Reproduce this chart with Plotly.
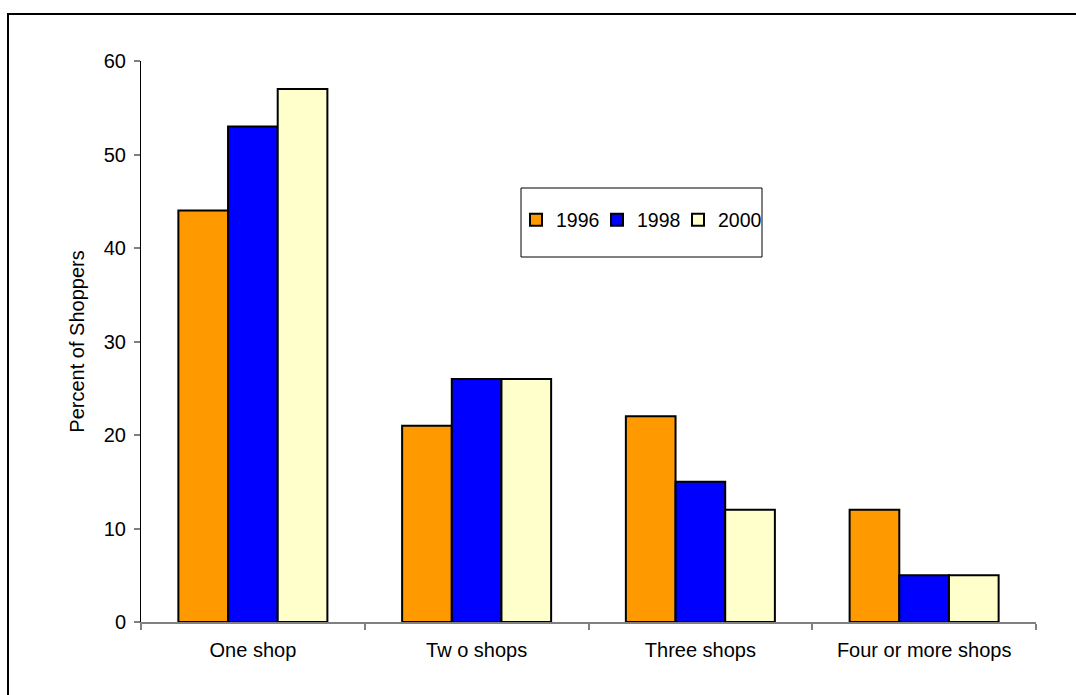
import plotly.graph_objects as go

# Number of shops visited, share of shoppers by survey year
categories = ["One shop", "Tw o shops", "Three shops", "Four or more shops"]
years = ["1996", "1998", "2000"]
pct_1996 = [44, 21, 22, 12]
pct_1998 = [53, 26, 15, 5]
pct_2000 = [57, 26, 12, 5]
series_values = [pct_1996, pct_1998, pct_2000]
series_colors = ["#FF9900", "#0000FF", "#FFFFCC"]
y_ticks = [0, 10, 20, 30, 40, 50, 60]

FONT = "Arial, Liberation Sans, sans-serif"
FS = 20

# plot-area geometry (pixels) used to place decorations in paper units
W, H = 1076, 695
L, R, T, B = 141, 40, 61, 73
pw, ph = W - L - R, H - T - B

def px_x(x):
    return (x - L) / pw

def px_y(y):
    return (H - B - y) / ph

# one legend per series so each entry sits at its own spot in the key box
legend_ids = ["legend", "legend2", "legend3"]
legend_left_px = [516, 597, 678]

fig = go.Figure()
for name, vals, col, lid in zip(years, series_values, series_colors, legend_ids):
    fig.add_trace(go.Bar(
        x=categories, y=vals, name=name, legend=lid,
        marker=dict(color=col, line=dict(color="#000000", width=2)),
    ))

shapes = [
    # outer frame around the chart
    dict(type="rect", xref="paper", yref="paper",
         x0=px_x(8), x1=px_x(1085), y0=px_y(700), y1=px_y(14),
         line=dict(color="#000000", width=2), fillcolor="rgba(0,0,0,0)", layer="above"),
    # legend frame
    dict(type="rect", xref="paper", yref="paper",
         x0=px_x(521), x1=px_x(762), y0=px_y(257), y1=px_y(188),
         line=dict(color="#000000", width=1), fillcolor="#FFFFFF", layer="below"),
]

legend_style = dict(
    orientation="h", xanchor="left", y=px_y(220), yanchor="middle",
    bgcolor="rgba(0,0,0,0)", borderwidth=0,
    font=dict(family=FONT, size=19.5, color="#000000"),
    itemwidth=30,
)

fig.update_layout(
    width=W, height=H,
    margin=dict(l=L, r=R, t=T, b=B),
    paper_bgcolor="#FFFFFF", plot_bgcolor="#FFFFFF",
    font=dict(family=FONT, size=FS, color="#000000"),
    barmode="group", bargap=0.334, bargroupgap=0,
    showlegend=True,
    shapes=shapes,
    xaxis=dict(
        type="category", range=[-0.5, 3.5],
        showline=True, linecolor="#808080", linewidth=2,
        ticks="outside", tickson="boundaries", ticklen=6, tickcolor="#808080", tickwidth=2,
        showgrid=False, zeroline=False,
        tickfont=dict(family=FONT, size=FS, color="#000000"),
        ticklabelstandoff=9,
    ),
    yaxis=dict(
        range=[0, 60], tickvals=y_ticks,
        showline=True, linecolor="#000000", linewidth=1,
        ticks="outside", ticklen=6, tickcolor="#808080", tickwidth=2,
        showgrid=False, zeroline=False,
        tickfont=dict(family=FONT, size=FS, color="#000000"),
        ticklabelstandoff=4,
        title=dict(text="Percent of Shoppers", standoff=13,
                   font=dict(family=FONT, size=FS, color="#000000")),
    ),
)
for lid, lx in zip(legend_ids, legend_left_px):
    fig.update_layout({lid: dict(legend_style, x=px_x(lx))})

fig.write_html("out.html")
